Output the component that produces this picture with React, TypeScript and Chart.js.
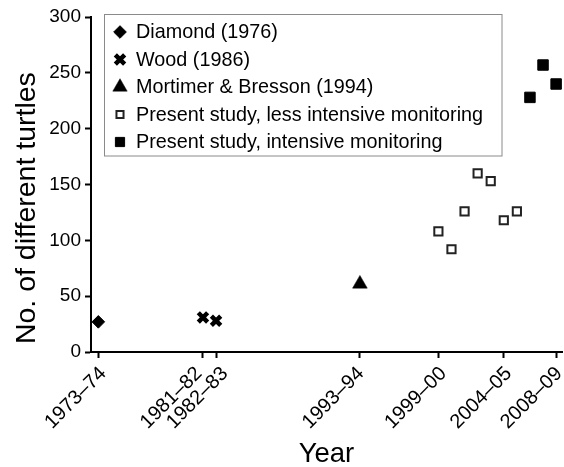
import React, { useEffect, useRef } from 'react';
import { Chart, registerables } from 'chart.js';
import { drawPoint } from 'chart.js/helpers';

Chart.register(...registerables);

// ---- data ----
const diamondYears = [1973];
const diamondCounts = [27];

const woodYears = [1981, 1982];
const woodCounts = [31, 28];

const mortimerYears = [1993];
const mortimerCounts = [61];

const lessYears = [1999, 2000, 2001, 2002, 2003, 2004, 2005];
const lessCounts = [108, 92, 126, 160, 153, 118, 126];

const intensiveYears = [2006, 2007, 2008];
const intensiveCounts = [228, 257, 240];

const tickYears = [1973, 1981, 1982, 1993, 1999, 2004, 2008];
const tickLabels = ['1973–74', '1981–82', '1982–83', '1993–94', '1999–00', '2004–05', '2008–09'];

const seriesLabels = [
  'Diamond (1976)',
  'Wood (1986)',
  'Mortimer & Bresson (1994)',
  'Present study, less intensive monitoring',
  'Present study, intensive monitoring',
];

const FONT = "'Liberation Sans', Arial, Helvetica, sans-serif";
const INK = '#000000';

const zip = (xs: number[], ys: number[]) => xs.map((x, i) => ({ x, y: ys[i] }));

// horizontal nudges (px) of the rotated year labels, as in the original figure
const LABEL_NUDGE: Record<string, number> = { '1981–82': -9, '1982–83': 4, '1993–94': -4, '2008–09': -2 };

const xLabelPlugin = {
  id: 'xLabels',
  afterDraw(chart: any) {
    const ctx = chart.ctx as CanvasRenderingContext2D;
    const scale = chart.scales.x;
    const bottom = chart.chartArea.bottom;
    ctx.save();
    ctx.fillStyle = INK;
    ctx.font = `20px ${FONT}`;
    ctx.textAlign = 'right';
    ctx.textBaseline = 'middle';
    tickYears.forEach((yr, i) => {
      const label = tickLabels[i];
      const px = scale.getPixelForValue(yr) + 5 + (LABEL_NUDGE[label] || 0);
      ctx.save();
      ctx.translate(px, bottom + 18.5);
      ctx.rotate(-Math.PI / 4);
      ctx.fillText(label, 0, 0);
      ctx.restore();
    });
    ctx.restore();
  },
};

const legendBoxPlugin = {
  id: 'legendBox',
  afterDraw(chart: any) {
    const ctx = chart.ctx as CanvasRenderingContext2D;
    const { left, top } = chart.chartArea;
    const boxL = left + 13.5;
    const boxT = top - 2.5;
    const boxR = left + 411;
    const boxB = top + 139;
    ctx.save();
    ctx.fillStyle = '#ffffff';
    ctx.fillRect(boxL, boxT, boxR - boxL, boxB - boxT);
    ctx.strokeStyle = '#8a8a8a';
    ctx.lineWidth = 1;
    ctx.strokeRect(boxL, boxT, boxR - boxL, boxB - boxT);
    const markerX = left + 29;
    const textX = left + 45;
    chart.data.datasets.forEach((ds: any, i: number) => {
      const y = top + 15 + i * 27.5;
      ctx.fillStyle = ds.pointBackgroundColor;
      ctx.strokeStyle = ds.pointBorderColor;
      ctx.lineWidth = ds.pointBorderWidth;
      drawPoint(ctx, {
        pointStyle: ds.pointStyle,
        radius: ds.legendRadius,
        rotation: 0,
        borderWidth: ds.pointBorderWidth,
      } as any, markerX, y);
      ctx.fillStyle = INK;
      ctx.font = `19.8px ${FONT}`;
      ctx.textBaseline = 'middle';
      ctx.textAlign = 'left';
      ctx.fillText(ds.label, textX, y + 1);
    });
    ctx.restore();
  },
};

export default function App() {
  const ref = useRef<HTMLCanvasElement>(null);

  useEffect(() => {
    const common = { showLine: false, clip: false as any };
    const chart = new Chart(ref.current as HTMLCanvasElement, {
      type: 'scatter',
      data: {
        datasets: [
          {
            ...common,
            label: seriesLabels[0],
            data: zip(diamondYears, diamondCounts),
            pointStyle: 'rectRot',
            pointRadius: 6.3,
            pointHoverRadius: 6.3,
            legendRadius: 6.3,
            pointBorderWidth: 1,
            pointBackgroundColor: INK,
            pointBorderColor: INK,
          } as any,
          {
            ...common,
            label: seriesLabels[1],
            data: zip(woodYears, woodCounts),
            pointStyle: 'crossRot',
            pointRadius: 6.6,
            pointHoverRadius: 6.6,
            legendRadius: 6.6,
            pointBorderWidth: 4.5,
            pointBackgroundColor: INK,
            pointBorderColor: INK,
          } as any,
          {
            ...common,
            label: seriesLabels[2],
            data: zip(mortimerYears, mortimerCounts),
            pointStyle: 'triangle',
            pointRadius: 8.5,
            pointHoverRadius: 8.5,
            legendRadius: 8.3,
            pointBorderWidth: 0.5,
            pointBackgroundColor: INK,
            pointBorderColor: INK,
          } as any,
          {
            ...common,
            label: seriesLabels[3],
            data: zip(lessYears, lessCounts),
            pointStyle: 'rect',
            pointRadius: 5.8,
            pointHoverRadius: 5.8,
            legendRadius: 5,
            pointBorderWidth: 2,
            pointBackgroundColor: '#ffffff',
            pointBorderColor: '#222222',
          } as any,
          {
            ...common,
            label: seriesLabels[4],
            data: zip(intensiveYears, intensiveCounts),
            pointStyle: 'rect',
            pointRadius: 7.4,
            pointHoverRadius: 7.4,
            legendRadius: 6.5,
            pointBorderWidth: 1,
            pointBackgroundColor: INK,
            pointBorderColor: INK,
          } as any,
        ],
      },
      options: {
        responsive: false,
        animation: false,
        devicePixelRatio: 1,
        layout: { autoPadding: false, padding: { left: 0, top: 17, right: 2, bottom: 0 } },
        plugins: {
          legend: { display: false },
          tooltip: { enabled: false },
          title: { display: false },
        },
        scales: {
          x: {
            type: 'linear',
            min: 1972.44,
            max: 2008.45,
            afterBuildTicks: (s: any) => {
              s.ticks = tickYears.map((v) => ({ value: v }));
            },
            afterFit: (s: any) => {
              s.height = 115;
              s.paddingLeft = 0;
              s.paddingRight = 0;
            },
            ticks: { display: false, autoSkip: false },
            grid: {
              display: true,
              drawOnChartArea: false,
              drawTicks: true,
              tickLength: 6,
              tickWidth: 2,
              tickColor: INK,
            },
            border: { display: true, color: INK, width: 2 },
            title: {
              display: true,
              text: 'Year',
              color: INK,
              font: { size: 27.5, family: FONT, lineHeight: 1 },
              padding: { top: 0, bottom: -1 },
            },
          },
          y: {
            type: 'linear',
            min: 0,
            max: 300,
            afterFit: (s: any) => {
              s.width = 91;
            },
            ticks: {
              stepSize: 50,
              padding: 4,
              color: INK,
              font: { size: 19, family: FONT },
            },
            grid: {
              display: true,
              drawOnChartArea: false,
              drawTicks: true,
              tickLength: 6,
              tickWidth: 2,
              tickColor: INK,
            },
            border: { display: true, color: INK, width: 2 },
            title: {
              display: true,
              text: ' No. of different turtles',
              align: 'start',
              color: INK,
              font: { size: 28.5, family: FONT, lineHeight: 1 },
              padding: { top: 12.5, bottom: 0 },
            },
          },
        },
      } as any,
      plugins: [xLabelPlugin, legendBoxPlugin],
    });
    return () => chart.destroy();
  }, []);

  return (
    <div style={{ position: 'absolute', left: 0, top: 0, width: 564, height: 467, background: '#fff' }}>
      <canvas ref={ref} width={564} height={467} style={{ display: 'block', width: 564, height: 467 }} />
    </div>
  );
}
